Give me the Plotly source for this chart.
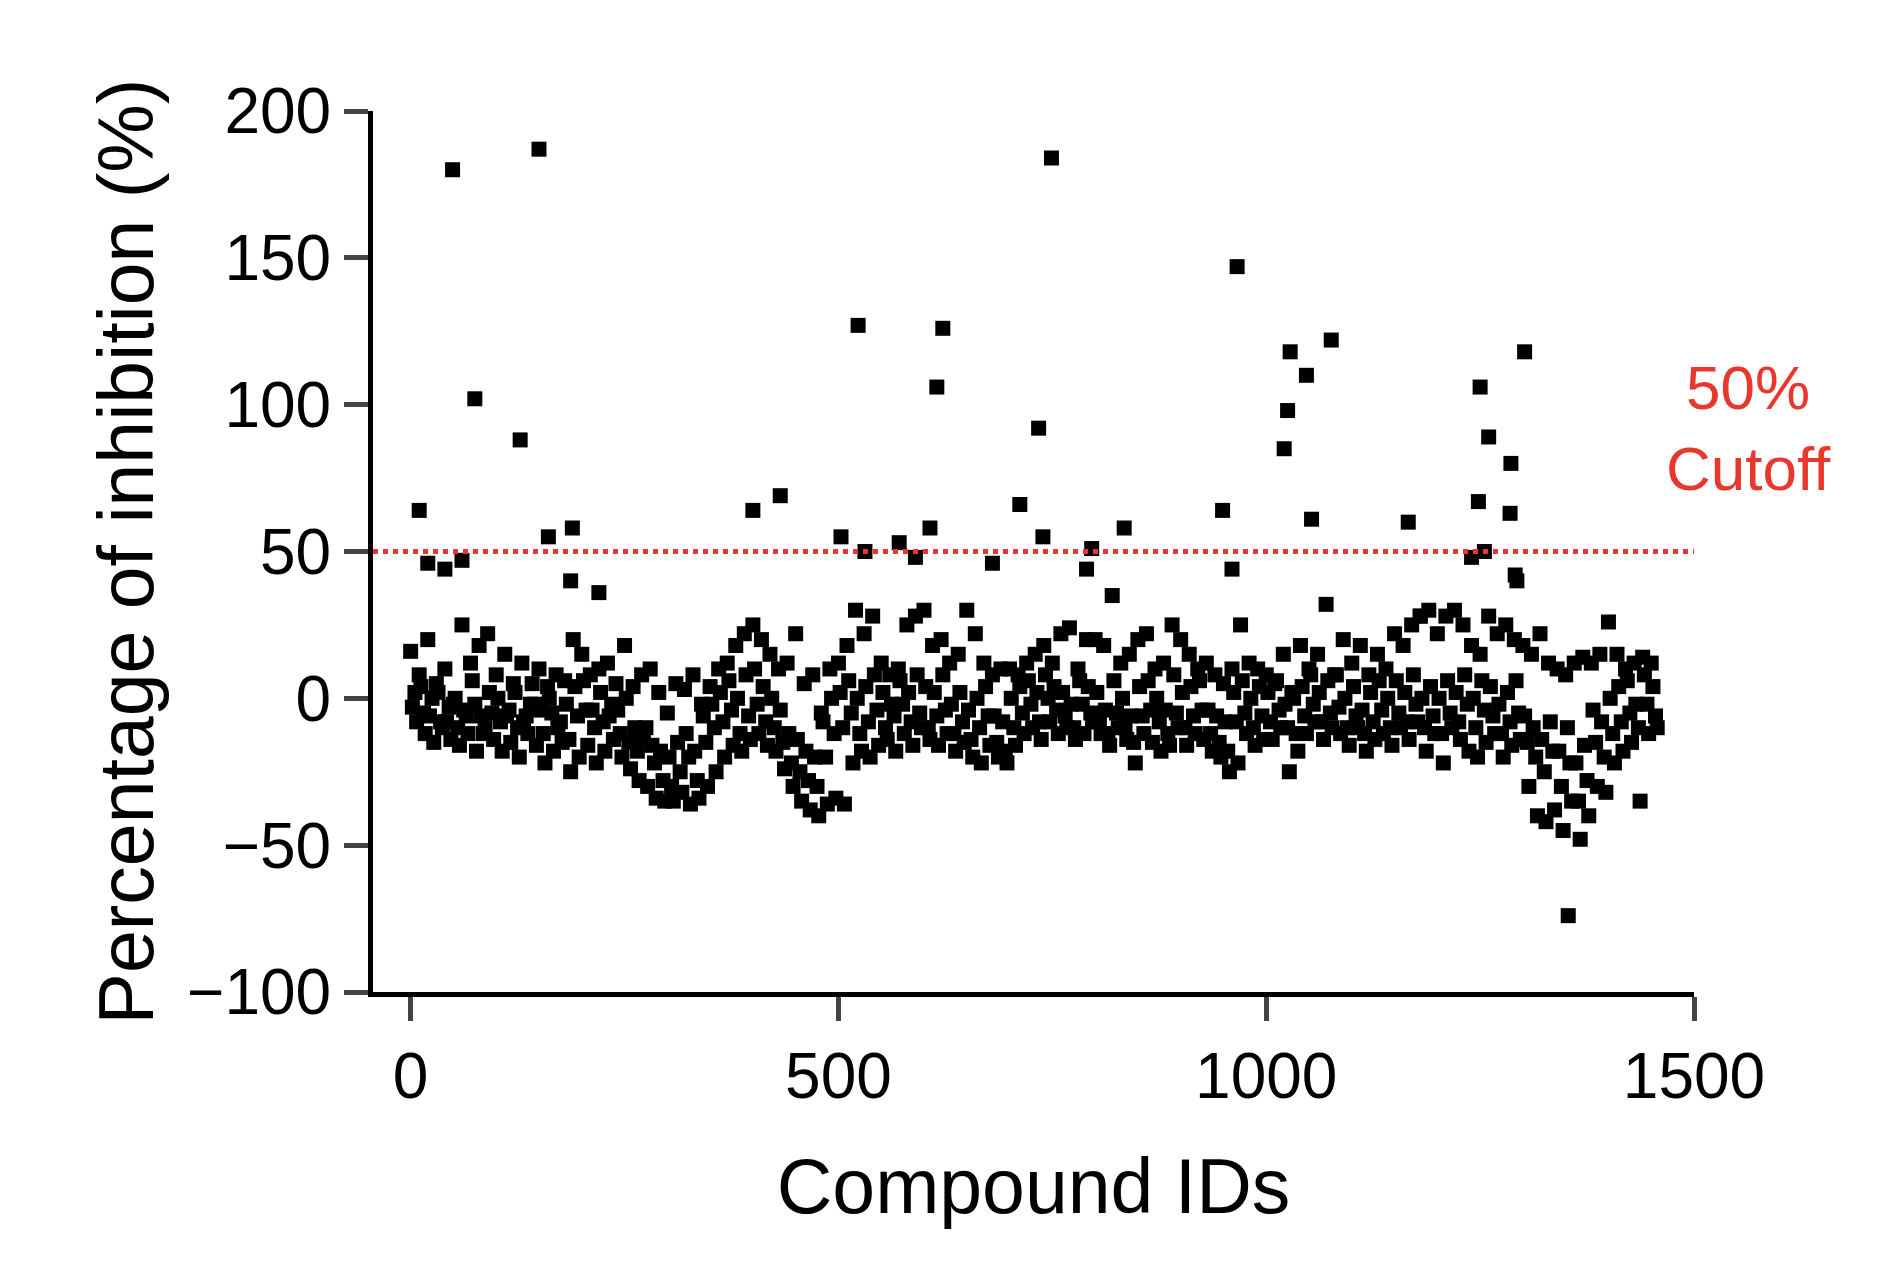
import plotly.graph_objects as go

# Dense band: rows of compound responses sampled every 10 IDs
band_upper = [16,8,20,5,10,-2,25,12,18,22,
              8,15,5,12,-2,10,4,8,6,20,
              15,8,10,12,5,18,4,8,10,2,
              -5,5,3,8,-2,4,10,12,18,22,
              25,20,15,10,12,22,5,8,-5,10,
              12,18,30,22,28,12,8,10,25,28,
              30,18,20,12,15,30,22,12,8,10,
              10,8,12,15,18,12,22,24,10,20,
              20,18,35,12,15,20,22,10,12,25,
              20,15,10,12,8,5,10,25,12,10,
              8,5,15,2,18,10,15,32,8,20,
              12,18,8,15,10,22,18,25,28,30,
              22,28,30,25,18,15,28,22,25,20,
              18,15,22,12,10,8,12,14,12,15,
              26,15,10,12,14,12]
band_center = [-3,4,-6,2,-8,0,-4,6,-6,2,
               0,-6,2,-8,5,-4,0,-10,-2,4,
               6,-4,2,-6,-4,0,-10,-14,-16,-18,
               -20,-15,-12,-18,-6,-2,2,6,0,8,
               10,4,0,-4,-12,-14,-18,-20,-8,0,
               2,6,0,4,8,2,-2,6,2,8,
               4,2,8,-2,2,-4,0,4,-6,-8,
               0,4,6,2,8,4,2,-2,6,4,
               2,-4,6,0,-6,4,6,0,-4,8,
               2,4,6,-4,-6,-8,2,6,0,4,
               2,6,-2,0,4,8,2,6,8,0,
               4,-4,2,6,0,6,2,8,0,4,
               0,6,2,8,0,6,4,-2,2,6,
               -6,-10,-14,-8,-18,-10,-22,-16,-4,-8,
               0,4,6,-2,8,4]
band_mid = [2,-5,0,-8,-3,-10,-6,-2,-12,-5,
            -8,-4,-10,-6,-2,-12,-5,-8,-14,-6,
            -4,-10,-8,-2,-12,-15,-18,-10,-22,-28,
            -30,-25,-20,-28,-15,-10,-8,-4,-12,-6,
            -2,-8,-10,-15,-22,-25,-28,-30,-20,-12,
            -10,-5,-12,-8,-4,-10,-6,-2,-8,-5,
            -10,-6,-4,-12,-8,-14,-10,-6,-15,-18,
            -10,-5,-2,-8,0,-4,-6,-10,-2,-5,
            -8,-12,-5,-10,-15,-6,-4,-8,-12,-5,
            -10,-6,-4,-12,-15,-18,-8,-5,-10,-6,
            -8,-4,-10,-12,-6,-2,-8,-5,-3,-10,
            -6,-12,-8,-4,-10,-5,-8,-2,-10,-6,
            -12,-5,-8,-2,-10,-4,-6,-12,-8,-5,
            -15,-20,-25,-18,-30,-22,-35,-28,-15,-20,
            -12,-8,-5,-10,-2,-6]
band_lower = [-8,-12,-15,-10,-14,-16,-12,-18,-10,-14,
              -18,-15,-20,-12,-16,-22,-18,-15,-25,-20,
              -16,-22,-18,-14,-20,-24,-28,-30,-34,-35,
              -35,-32,-36,-34,-30,-25,-20,-16,-18,-14,
              -12,-16,-18,-24,-30,-35,-38,-40,-36,-34,
              -36,-22,-18,-20,-16,-14,-18,-12,-16,-10,
              -14,-16,-12,-18,-15,-20,-22,-16,-20,-22,
              -16,-12,-10,-14,-8,-12,-10,-14,-12,-8,
              -12,-16,-10,-14,-22,-12,-15,-18,-16,-10,
              -16,-12,-14,-18,-20,-25,-22,-12,-16,-14,
              -14,-10,-25,-18,-12,-8,-14,-10,-12,-16,
              -10,-18,-14,-12,-16,-10,-14,-8,-18,-12,
              -22,-10,-14,-18,-20,-15,-12,-20,-16,-14,
              -30,-40,-42,-38,-45,-35,-48,-40,-30,-32,
              -22,-18,-15,-35,-12,-10]
ids_upper = list(range(0, 1460, 10))
ids_center = list(range(2, 1460, 10))
ids_mid = list(range(5, 1460, 10))
ids_lower = list(range(7, 1460, 10))

# Scattered individual compounds
out_ids = [10,49,75,128,150,161,189,187,523,503,622,615,607,400,432,749,734,712,739,
           966,949,1028,1025,1021,1047,1076,1053,1302,1250,1260,1286,1285,1248,1166,
           1293,1353,834,796,531,571,1291,20,40,60,220,590,680,790,960,1180,1255,1240]
out_vals = [64,180,102,88,187,55,58,40,127,55,126,106,58,64,69,184,92,66,55,
            147,64,118,98,85,110,122,61,118,106,89,80,63,67,60,
            40,-74,58,51,50,53,42,46,44,47,36,48,46,44,44,28,50,48]

cutoff = 50

fig = go.Figure()
mk = dict(symbol="square", size=15, color="black", line=dict(width=0))
for xs, ys in [(ids_upper, band_upper), (ids_center, band_center), (ids_mid, band_mid),
               (ids_lower, band_lower), (out_ids, out_vals)]:
    fig.add_trace(go.Scatter(x=xs, y=ys, mode="markers", marker=mk, showlegend=False))

fig.add_shape(type="line", x0=-44, x1=1500, y0=cutoff, y1=cutoff, xref="x", yref="y",
              line=dict(color="#e8372c", width=5, dash="dot"))
fig.add_annotation(x=1, xref="paper", xanchor="left", xshift=-30, y=cutoff + 42, yref="y",
                   text="50%<br>Cutoff", showarrow=False, align="center",
                   font=dict(family="Liberation Sans, Arial", size=62, color="#e8372c"))

font = dict(family="Liberation Sans, Arial", size=64, color="black")
fig.update_layout(
    width=1888, height=1288, plot_bgcolor="white", paper_bgcolor="white",
    margin=dict(l=365, r=202, t=103, b=304),
    font=font,
    xaxis=dict(range=[-44, 1500], tickvals=[0, 500, 1000, 1500], showgrid=False, zeroline=False,
               showline=True, linecolor="black", linewidth=5, ticks="outside", ticklen=24,
               tickwidth=5, title=dict(text="Compound IDs", standoff=50), tickfont=font),
    yaxis=dict(range=[-100, 200], tickvals=[-100, -50, 0, 50, 100, 150, 200],
               ticktext=["\u2212100", "\u221250", "0", "50", "100", "150", "200"],
               showgrid=False, zeroline=False, showline=True, linecolor="black", linewidth=5,
               ticks="outside", ticklen=24, tickwidth=5,
               title=dict(text="Percentage of inhibition (%)", standoff=10), tickfont=font),
)
fig.write_html("out.html")
